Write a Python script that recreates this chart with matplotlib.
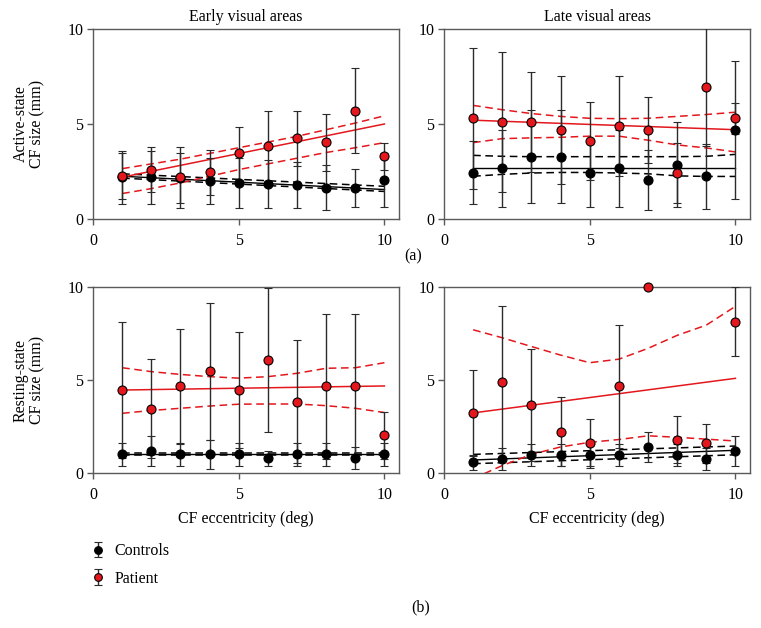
import matplotlib
matplotlib.use("Agg")
from matplotlib import pyplot as plt

plt.rcParams["font.family"] = ["Liberation Serif", "DejaVu Serif"]
plt.rcParams["font.size"] = 11

ecc = [1, 2, 3, 4, 5, 6, 7, 8, 9, 10]
fit_x = [1, 10]

# early visual areas, active state
ea_ctrl = [2.2, 2.2, 2.15, 2.0, 1.9, 1.85, 1.8, 1.65, 1.65, 2.05]
ea_ctrl_err = [1.4, 1.4, 1.3, 1.2, 1.3, 1.25, 1.2, 1.2, 1.0, 1.4]
ea_pat = [2.25, 2.6, 2.2, 2.45, 3.45, 3.85, 4.25, 4.05, 5.7, 3.3]
ea_pat_err = [1.2, 1.2, 1.6, 1.2, 1.4, 1.85, 1.45, 1.5, 2.25, 0.7]
ea_ctrl_fit = [2.25, 1.55]
ea_ctrl_hi = [2.38, 1.72]
ea_ctrl_lo = [2.15, 1.45]
ea_pat_fit = [2.2, 5.0]
ea_pat_hi = [2.65, 2.9, 3.15, 3.45, 3.75, 4.05, 4.35, 4.7, 5.05, 5.43]
ea_pat_lo = [1.34, 1.6, 1.9, 2.25, 2.6, 2.9, 3.2, 3.5, 3.75, 4.02]

# late visual areas, active state
la_ctrl = [2.43, 2.66, 3.28, 3.28, 2.43, 2.66, 2.05, 2.86, 2.24, 4.69]
la_ctrl_err = [1.65, 2.03, 2.45, 2.45, 1.8, 2.03, 1.6, 2.23, 1.72, 3.65]
la_pat = [5.29, 5.11, 5.11, 4.69, 4.09, 4.89, 4.69, 2.43, 6.93, 5.29]
la_pat_err = [3.69, 3.67, 2.65, 2.85, 2.05, 2.65, 1.73, 1.57, 3.1, 0.83]
la_ctrl_fit = [2.66, 2.66]
la_ctrl_hi = [3.35, 3.3, 3.28, 3.28, 3.28, 3.28, 3.28, 3.28, 3.3, 3.4]
la_ctrl_lo = [2.25, 2.35, 2.42, 2.45, 2.45, 2.42, 2.38, 2.27, 2.24, 2.24]
la_pat_fit = [5.2, 4.7]
la_pat_hi = [5.98, 5.75, 5.55, 5.4, 5.3, 5.28, 5.3, 5.4, 5.5, 5.62]
la_pat_lo = [4.02, 4.23, 4.27, 4.3, 4.36, 4.36, 4.15, 3.9, 3.74, 3.53]

# early visual areas, resting state
er_ctrl = [1.0, 1.2, 1.0, 1.0, 1.0, 0.8, 1.0, 1.0, 0.8, 1.0]
er_ctrl_err = [0.6, 0.8, 0.6, 0.8, 0.6, 0.4, 0.6, 0.6, 0.6, 0.6]
er_pat = [4.46, 3.45, 4.66, 5.48, 4.46, 6.09, 3.84, 4.66, 4.66, 2.02]
er_pat_err = [3.68, 2.66, 3.1, 3.68, 3.1, 3.88, 3.3, 3.91, 3.91, 1.25]
er_ctrl_fit = [1.0, 1.0]
er_ctrl_hi = [1.05, 1.05]
er_ctrl_lo = [0.95, 0.95]
er_pat_fit = [4.46, 4.68]
er_pat_hi = [5.66, 5.45, 5.3, 5.18, 5.1, 5.18, 5.36, 5.63, 5.66, 5.93]
er_pat_lo = [3.21, 3.36, 3.48, 3.6, 3.7, 3.71, 3.71, 3.62, 3.48, 3.25]

# late visual areas, resting state
lr_ctrl = [0.57, 0.77, 0.98, 0.98, 0.98, 0.98, 1.39, 0.98, 0.77, 1.18]
lr_ctrl_err = [0.4, 0.6, 0.6, 0.6, 0.6, 0.6, 0.8, 0.6, 0.6, 0.82]
lr_pat = [3.23, 4.88, 3.64, 2.21, 1.59, 4.66, 10.0, 1.8, 1.59, 8.14]
lr_pat_err = [2.29, 4.1, 3.0, 1.86, 1.34, 3.29, 0.0, 1.24, 1.04, 1.86]
lr_ctrl_fit = [0.7, 1.22]
lr_ctrl_hi = [1.0, 1.45]
lr_ctrl_lo = [0.5, 0.98]
lr_pat_fit = [3.23, 5.09]
lr_pat_hi = [7.7, 7.27, 6.8, 6.34, 5.93, 6.12, 6.7, 7.4, 7.95, 8.96]
lr_pat_lo = [-0.3, 0.4, 1.0, 1.4, 1.65, 1.8, 2.0, 1.92, 1.82, 1.72]

RED = "#e3171c"
DASH = (0, (5, 3))
SPINE = "#5a5a5a"


def band_x(values):
    return ecc if len(values) == len(ecc) else fit_x


def drawPanel(ax, ctrl, ctrl_err, pat, pat_err, ctrl_fit, ctrl_hi, ctrl_lo,
              pat_fit, pat_hi, pat_lo):
    ax.plot(fit_x, ctrl_fit, color="black", lw=1.0, zorder=1.5)
    ax.plot(band_x(ctrl_hi), ctrl_hi, color="black", lw=1.1, ls=DASH, zorder=1.5)
    ax.plot(band_x(ctrl_lo), ctrl_lo, color="black", lw=1.1, ls=DASH, zorder=1.5)
    ax.plot(fit_x, pat_fit, color=RED, lw=1.1, zorder=1.5)
    ax.plot(band_x(pat_hi), pat_hi, color=RED, lw=1.1, ls=DASH, zorder=1.5)
    ax.plot(band_x(pat_lo), pat_lo, color=RED, lw=1.1, ls=DASH, zorder=1.5)

    handles = []
    for vals, errs, face in ((ctrl, ctrl_err, "black"), (pat, pat_err, RED)):
        eb = ax.errorbar(ecc, vals, yerr=errs, fmt="o", ms=6.5, mfc=face,
                         mec="black", mew=0.8, ecolor="#2b2b2b", elinewidth=1.0,
                         capsize=3.2, capthick=1.0, zorder=3)
        eb[0].set_clip_on(False)
        handles.append(eb)

    ax.set_xlim(0, 10.5)
    ax.set_ylim(0, 10)
    ax.set_xticks([0, 5, 10])
    ax.set_yticks([0, 5, 10])
    for sp in ax.spines.values():
        sp.set_color(SPINE)
        sp.set_linewidth(1.0)
    ax.tick_params(direction="out", length=4, width=1.0, color=SPINE,
                   labelsize=11.5, pad=3)
    ax.tick_params(axis="x", pad=6)
    return handles


def main() -> None:
    fig = plt.figure(figsize=(7.61, 6.28), dpi=100)
    w, h = 306 / 761, 190 / 628
    hb = 186 / 628
    ax_ea = fig.add_axes([93 / 761, 1 - 219 / 628, w, h])
    ax_la = fig.add_axes([444 / 761, 1 - 219 / 628, w, h])
    ax_er = fig.add_axes([93 / 761, 1 - 473 / 628, w, hb])
    ax_lr = fig.add_axes([444 / 761, 1 - 473 / 628, w, hb])

    handles = drawPanel(ax_ea, ea_ctrl, ea_ctrl_err, ea_pat, ea_pat_err,
                        ea_ctrl_fit, ea_ctrl_hi, ea_ctrl_lo,
                        ea_pat_fit, ea_pat_hi, ea_pat_lo)
    drawPanel(ax_la, la_ctrl, la_ctrl_err, la_pat, la_pat_err,
              la_ctrl_fit, la_ctrl_hi, la_ctrl_lo,
              la_pat_fit, la_pat_hi, la_pat_lo)
    drawPanel(ax_er, er_ctrl, er_ctrl_err, er_pat, er_pat_err,
              er_ctrl_fit, er_ctrl_hi, er_ctrl_lo,
              er_pat_fit, er_pat_hi, er_pat_lo)
    drawPanel(ax_lr, lr_ctrl, lr_ctrl_err, lr_pat, lr_pat_err,
              lr_ctrl_fit, lr_ctrl_hi, lr_ctrl_lo,
              lr_pat_fit, lr_pat_hi, lr_pat_lo)

    ax_ea.set_title("Early visual areas", fontsize=11.5, pad=6)
    ax_la.set_title("Late visual areas", fontsize=11.5, pad=6)

    for ax, label in ((ax_ea, "Active-state\nCF size (mm)"),
                      (ax_er, "Resting-state\nCF size (mm)")):
        ax.set_ylabel(label, fontsize=11.5, multialignment="center",
                      linespacing=1.1)
        ax.yaxis.set_label_coords(-0.155, 0.5)

    for ax in (ax_er, ax_lr):
        ax.set_xlabel("CF eccentricity (deg)", fontsize=11.5, labelpad=6)

    fig.text(0.543, 1 - 256 / 628, "(a)", ha="center", va="center", fontsize=11.5)
    fig.text(0.553, 1 - 607 / 628, "(b)", ha="center", va="center", fontsize=11.5)

    fig.legend(handles, ["Controls", "Patient"], loc="upper left",
               bbox_to_anchor=(0.106, 0.153), frameon=False, fontsize=11.5,
               handlelength=0.8, handletextpad=0.6, labelspacing=0.75,
               borderpad=0.2, markerscale=0.85)

    fig.savefig("out.png", dpi=100)


if __name__ == "__main__":
    main()
